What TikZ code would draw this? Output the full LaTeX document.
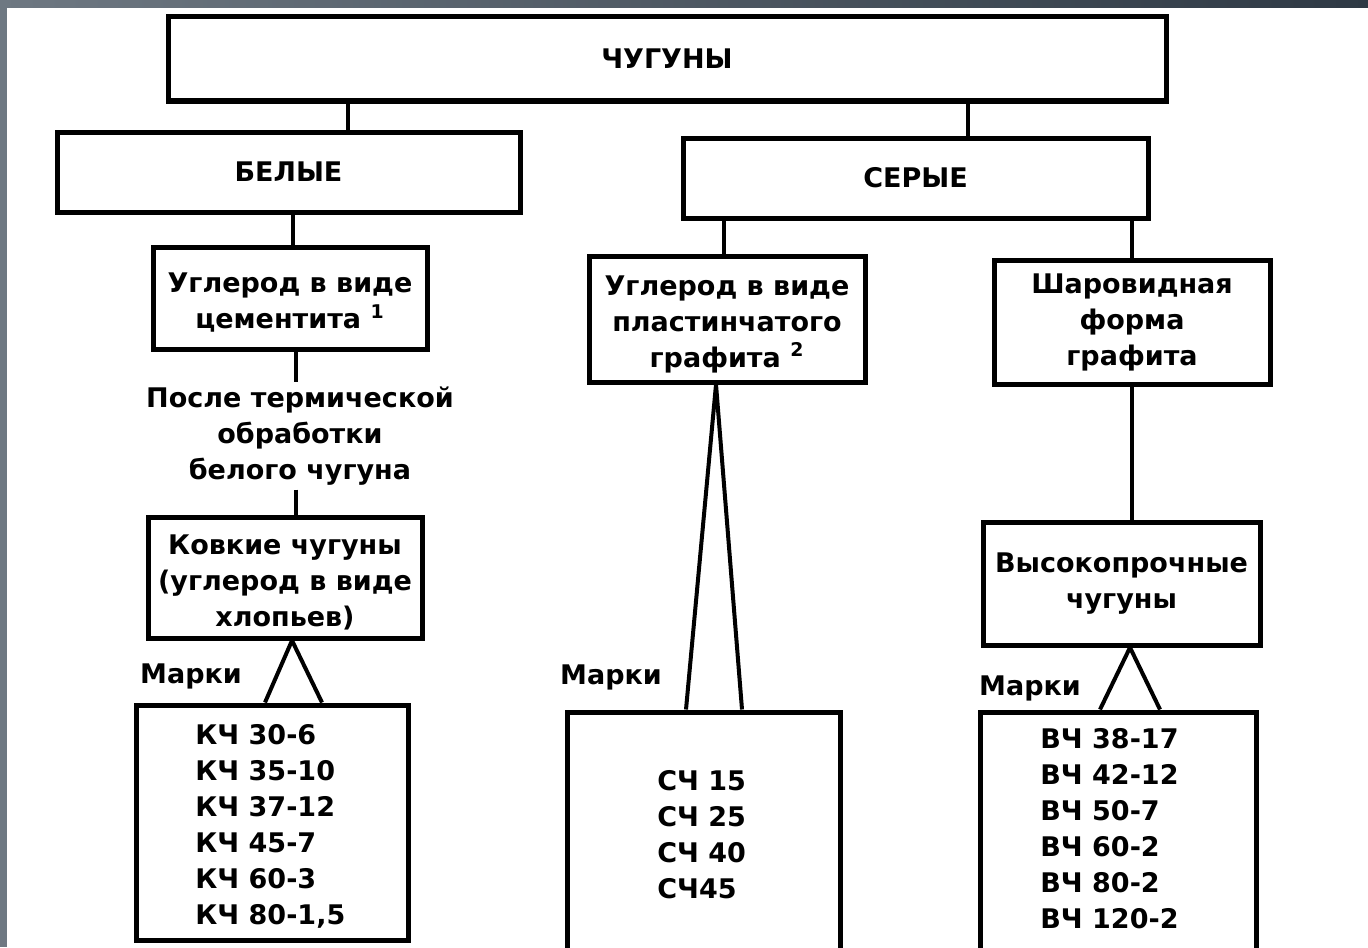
\documentclass[tikz,border=0pt]{standalone}
\usepackage{fontspec}
\setmainfont{DejaVu Sans}
\usetikzlibrary{calc}
\definecolor{slideL}{HTML}{6E7882}
\definecolor{slideR}{HTML}{2E3944}
\begin{document}
\begin{tikzpicture}[x=0.5pt,y=-0.5pt,
  txt/.style={font=\bfseries\fontsize{13.5}{18}\selectfont},
  box/.style={draw, line width=2.5pt, rectangle, align=center, inner sep=0pt, txt},
  lbl/.style={align=center, inner sep=0pt, txt},
  inlbl/.style={lbl, yshift=-2.5pt},
  lst/.style={align=left, inner sep=0pt, anchor=west, txt},
  conn/.style={line width=2pt, line join=round}]
\useasboundingbox (0,0) rectangle (1368,947);
\clip (0,0) rectangle (1368,947);
\fill[white] (0,0) rectangle (1368,947);
\fill[left color=slideL, right color=slideR] (0,0) rectangle (1368,8);
\fill[slideL] (0,0) rectangle (7,947);

% boxes
\node[box, minimum width=499pt, minimum height=42pt] (top) at (667,59) {ЧУГУНЫ};
\node[box, minimum width=231.5pt, minimum height=40pt] (bel) at (288.5,172) {БЕЛЫЕ};
\node[box, minimum width=232.5pt, minimum height=40pt] (ser) at (915.5,178) {СЕРЫЕ};
\node[box, minimum width=137pt, minimum height=51pt,
  label={[inlbl]center:{Углерод в виде\\ цементита \textsuperscript{1}}}] (cem) at (290,298) {};
\node[lbl] (aft) at (300,436) {После термической\\обработки\\белого чугуна};
\node[box, minimum width=137pt, minimum height=60.5pt,
  label={[inlbl]center:{Ковкие чугуны\\(углерод в виде\\хлопьев)}}] (kov) at (285,577.5) {};
\node[box, minimum width=136pt, minimum height=117.5pt] (kch) at (272,822.5) {};
\node[box, minimum width=138pt, minimum height=63pt,
  label={[inlbl]center:{Углерод в виде\\пластинчатого\\графита \textsuperscript{2}}}] (pla) at (727,319) {};
\node[box, minimum width=136.5pt, minimum height=120pt] (sch) at (703.5,832) {};
\node[box, minimum width=138pt, minimum height=62pt] (shar) at (1132,322) {Шаровидная\\форма\\графита};
\node[box, minimum width=138.5pt, minimum height=61.5pt] (vys) at (1121.5,583.5) {Высокопрочные\\чугуны};
\node[box, minimum width=138pt, minimum height=119pt] (vch) at (1118,831) {};

% lists
\node[lst] (kchl) at (195,826) {КЧ 30-6\\КЧ 35-10\\КЧ 37-12\\КЧ 45-7\\КЧ 60-3\\КЧ 80-1,5};
\node[lst] (schl) at (657,835) {СЧ 15\\СЧ 25\\СЧ 40\\СЧ45};
\node[lst] (vchl) at (1040,829) {ВЧ 38-17\\ВЧ 42-12\\ВЧ 50-7\\ВЧ 60-2\\ВЧ 80-2\\ВЧ 120-2};

% Марки labels
\node[lbl] (m1) at (191,676) {Марки};
\node[lbl] (m2) at (611,677) {Марки};
\node[lbl] (m3) at (1030,688) {Марки};

% x positions of connectors
\coordinate (x1) at (348,0);
\coordinate (x2) at (968,0);
\coordinate (x3) at (293,0);
\coordinate (x4) at (296,0);
\coordinate (x5) at (724,0);
\coordinate (x6) at (1132,0);
\coordinate (ka) at (292,0);
\coordinate (kl) at (265,0);
\coordinate (kr) at (322,0);
\coordinate (ma) at (716,0);
\coordinate (ml) at (686,0);
\coordinate (mr) at (742,0);
\coordinate (ra) at (1130,0);
\coordinate (rl) at (1100,0);
\coordinate (rr) at (1160,0);

\draw[conn] (top.south -| x1) -- (bel.north -| x1);
\draw[conn] (top.south -| x2) -- (ser.north -| x2);
\draw[conn] (bel.south -| x3) -- (cem.north -| x3);
\draw[conn] (cem.south -| x4) -- ([yshift=2pt]aft.north -| x4);
\draw[conn] ([yshift=-2pt]aft.south -| x4) -- (kov.north -| x4);
\draw[conn] (ser.south -| x5) -- (pla.north -| x5);
\draw[conn] (ser.south -| x6) -- (shar.north -| x6);
\draw[conn] (shar.south -| x6) -- (vys.north -| x6);

\draw[conn] (kch.north -| kl) -- (kov.south -| ka) -- (kch.north -| kr);
\draw[conn] (sch.north -| ml) -- (pla.south -| ma) -- (sch.north -| mr);
\draw[conn] (vch.north -| rl) -- (vys.south -| ra) -- (vch.north -| rr);
\end{tikzpicture}
\end{document}
